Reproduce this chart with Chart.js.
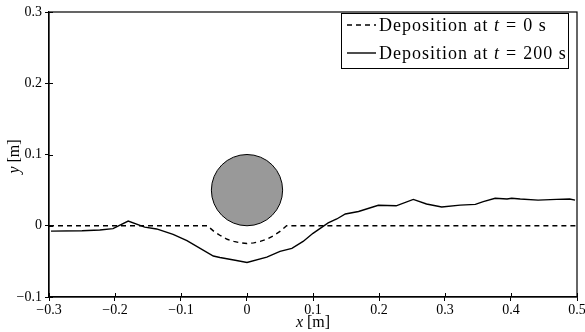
<!DOCTYPE html>
<html>
<head>
<meta charset="utf-8">
<script src="https://cdn.jsdelivr.net/npm/chart.js@4/dist/chart.umd.min.js"></script>
<style>
  html, body { margin: 0; padding: 0; background: #fff; }
  #wrap { width: 585px; height: 332px; }
</style>
</head>
<body>
<div id="wrap"><canvas id="myChart" width="585" height="332"></canvas></div>
<script>
// Data
let xInitial = [-0.3, -0.06, -0.05, -0.04, -0.03, -0.02, -0.01, 0, 0.01, 0.02, 0.03, 0.04, 0.05, 0.06, 0.5];
let yInitial = [0, 0, -0.008, -0.014, -0.019, -0.022, -0.024, -0.025, -0.024, -0.022, -0.019, -0.014, -0.008, 0, 0];

let xFinal = [-0.297, -0.25, -0.223, -0.203, -0.18, -0.155, -0.137, -0.112, -0.091, -0.051, -0.041, -0.02, 0,
  0.03, 0.05, 0.068, 0.085, 0.1, 0.123, 0.136, 0.149, 0.169, 0.199, 0.226, 0.252, 0.272, 0.295, 0.323,
  0.346, 0.358, 0.376, 0.394, 0.401, 0.414, 0.441, 0.469, 0.489, 0.497];
let yFinal = [-0.0075, -0.007, -0.006, -0.004, 0.0065, -0.002, -0.0045, -0.012, -0.021, -0.0425, -0.0445, -0.048, -0.0515,
  -0.044, -0.036, -0.0317, -0.022, -0.0106, 0.004, 0.0095, 0.0165, 0.02, 0.0287, 0.028, 0.037, 0.0305, 0.0263, 0.029,
  0.030, 0.0338, 0.0385, 0.0375, 0.0385, 0.0375, 0.036, 0.037, 0.0375, 0.036];

let legendLabels = ['Deposition at ', 'Deposition at '];
let legendTimes = ['0', '200'];

// cylinder: centre and radius (m)
let cylX = 0, cylY = 0.05, cylR = 0.05;

let xTicks = [-0.3, -0.2, -0.1, 0, 0.1, 0.2, 0.3, 0.4, 0.5];
let yTicks = [-0.1, 0, 0.1, 0.2, 0.3];

const SERIF = '"Liberation Serif", "DejaVu Serif", serif';

function pts(xs, ys) {
  return xs.map((x, i) => ({x: x, y: ys[i]}));
}
function fmt(v) {
  let s = String(Number(v.toFixed(1)));
  return s.replace('-', '\u2212');
}

// draws frame, inner ticks, cylinder, axis titles and legend
const extras = {
  id: 'extras',
  beforeDatasetsDraw(chart) {
    let c = chart.ctx, xs = chart.scales.x, ys = chart.scales.y;
    let cx = xs.getPixelForValue(cylX), cy = ys.getPixelForValue(cylY);
    let r = Math.abs(ys.getPixelForValue(cylY + cylR) - cy);
    c.save();
    c.beginPath();
    c.arc(cx, cy, r, 0, Math.PI * 2);
    c.fillStyle = '#999999';
    c.fill();
    c.lineWidth = 1;
    c.strokeStyle = '#000';
    c.stroke();
    c.restore();
  },
  afterDraw(chart) {
    let c = chart.ctx, a = chart.chartArea, xs = chart.scales.x, ys = chart.scales.y;
    c.save();
    c.strokeStyle = '#000';
    c.lineWidth = 1.2;
    c.strokeRect(a.left, a.top, a.right - a.left, a.bottom - a.top);
    // inner tick stubs
    c.lineWidth = 1;
    c.beginPath();
    xTicks.forEach(v => {
      let p = Math.round(xs.getPixelForValue(v)) + 0.5;
      c.moveTo(p, a.bottom); c.lineTo(p, a.bottom - 4);
    });
    yTicks.forEach(v => {
      let p = Math.round(ys.getPixelForValue(v)) + 0.5;
      c.moveTo(a.left, p); c.lineTo(a.left + 4, p);
    });
    c.stroke();

    // axis titles
    c.fillStyle = '#000';
    c.textBaseline = 'middle';
    function mixed(parts, x, y, align) {
      let w = 0;
      parts.forEach(p => { c.font = p[1]; w += c.measureText(p[0]).width + (p[2] || 0) * 2; });
      let sx = align === 'center' ? x - w / 2 : x;
      c.textAlign = 'left';
      parts.forEach(p => {
        c.font = p[1];
        sx += p[2] || 0;
        c.fillText(p[0], sx, y);
        sx += c.measureText(p[0]).width + (p[2] || 0);
      });
    }
    let it15 = 'italic 16px ' + SERIF, rm15 = '16px ' + SERIF;
    mixed([['x', it15], [' [m]', rm15]], (a.left + a.right) / 2, 323, 'center');
    c.save();
    c.translate(15, (a.top + a.bottom) / 2 + 2);
    c.rotate(-Math.PI / 2);
    mixed([['y', it15], [' [m]', rm15]], 0, 0, 'center');
    c.restore();

    // legend
    let bx = 341, by = 13, bw = a.right - 9 - bx, bh = 55;
    c.fillStyle = '#fff';
    c.fillRect(bx, by, bw, bh);
    c.lineWidth = 1;
    c.strokeRect(bx + 0.5, by + 0.5, bw, bh);
    let it = 'italic 18px ' + SERIF, rm = '18px ' + SERIF;
    c.letterSpacing = '1px';
    let rows = [by + 12, by + 40];
    chart.data.datasets.forEach((ds, i) => {
      c.beginPath();
      c.setLineDash(ds.borderDash || []);
      c.lineWidth = 1.4;
      c.moveTo(bx + 6, rows[i]); c.lineTo(bx + 35, rows[i]);
      c.stroke();
      c.setLineDash([]);
      c.fillStyle = '#000';
      mixed([[legendLabels[i], rm], ['t', it], ['=', rm, 6], [legendTimes[i] + ' s', rm]], bx + 38, rows[i] + 1, 'left');
    });
    c.restore();
  }
};

const ctx = document.getElementById('myChart').getContext('2d');
const myChart = new Chart(ctx, {
  type: 'line',
  data: {
    datasets: [{
      label: 'Deposition at t = 0 s',
      data: pts(xInitial, yInitial),
      borderColor: '#000',
      borderWidth: 1.4,
      borderDash: [5, 4],
      pointRadius: 0,
      tension: 0,
      fill: false
    }, {
      label: 'Deposition at t = 200 s',
      data: pts(xFinal, yFinal),
      borderColor: '#000',
      borderWidth: 1.4,
      pointRadius: 0,
      tension: 0,
      fill: false
    }]
  },
  options: {
    responsive: false,
    animation: false,
    layout: { padding: { top: 12, right: 8, left: 0, bottom: 0 } },
    plugins: { legend: { display: false }, tooltip: { enabled: false } },
    scales: {
      x: {
        type: 'linear',
        min: -0.3, max: 0.5,
        afterBuildTicks: s => { s.ticks = xTicks.map(v => ({value: v})); },
        afterFit: s => { s.height = 35; s.paddingLeft = 0; s.paddingRight = 0; },
        grid: { display: true, drawOnChartArea: false, drawTicks: true, tickLength: 4, color: '#000' },
        border: { display: true, color: '#000', width: 1.2 },
        ticks: { color: '#000', font: { family: SERIF, size: 14 }, padding: 1, maxRotation: 0, callback: v => fmt(v) }
      },
      y: {
        type: 'linear',
        min: -0.1, max: 0.3,
        afterBuildTicks: s => { s.ticks = yTicks.map(v => ({value: v})); },
        afterFit: s => { s.width = 49; s.paddingTop = 0; s.paddingBottom = 0; },
        grid: { display: true, drawOnChartArea: false, drawTicks: true, tickLength: 4, color: '#000' },
        border: { display: true, color: '#000', width: 1.2 },
        ticks: { color: '#000', font: { family: SERIF, size: 14 }, padding: 3, callback: v => fmt(v) }
      }
    }
  },
  plugins: [extras]
});
</script>
</body>
</html>
